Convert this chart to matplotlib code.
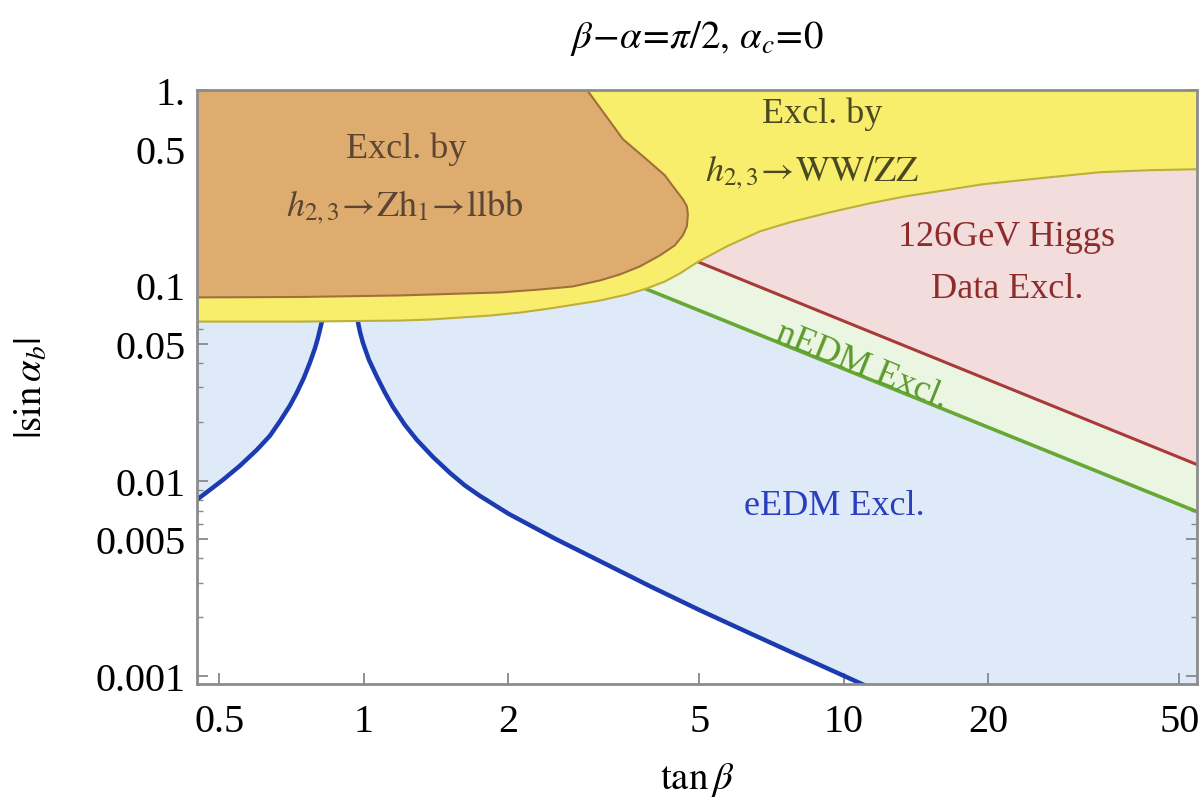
import numpy as np
import matplotlib
matplotlib.use("Agg")
import matplotlib.pyplot as plt
from matplotlib.ticker import FixedLocator, FixedFormatter, LogLocator, NullLocator

plt.rcParams["font.family"] = ["Liberation Serif", "DejaVu Serif"]
plt.rcParams["mathtext.fontset"] = "stix"

# --- datos (tan beta, |sin alpha_b|) ---
# curva eEDM (rama izquierda + rama derecha, el pico queda bajo la zona amarilla)
eedm_x = [0.448, 0.4776, 0.5084, 0.5515, 0.5985, 0.637, 0.6683, 0.701, 0.7249, 0.750,
          0.7718, 0.7905, 0.802, 0.8176, 0.834,
          0.953, 0.9716, 0.981, 0.9952, 1.024, 1.0643, 1.106, 1.149, 1.217, 1.289,
          1.392, 1.511, 1.623, 1.745, 2.005, 2.512, 2.792, 3.102, 3.943, 5.01,
          6.37, 7.79, 10.05, 12.29]
eedm_y = [0.00796, 0.00896, 0.01008, 0.0119, 0.01437, 0.01695, 0.0201, 0.02416, 0.02817, 0.0336,
          0.04014, 0.0474, 0.0536, 0.0651, 0.095,
          0.095, 0.0651, 0.0579, 0.0508, 0.0416, 0.0340, 0.0282, 0.02387, 0.0193, 0.01617,
          0.01323, 0.01095, 0.00945, 0.00835, 0.00675, 0.00502, 0.00441, 0.003875, 0.002884, 0.002172,
          0.001656, 0.001322, 0.000997, 0.000796]

# nEDM
nedm_x = [3.849, 54.6]
nedm_y = [0.0962, 0.00691]

# 126 GeV Higgs
higgs_x = [4.941, 54.6]
higgs_y = [0.1323, 0.01204]

# h -> WW/ZZ (borde inferior de la zona amarilla)
ww_x = [0.4467, 0.7356, 1.189, 1.372, 1.585, 1.83, 2.113, 2.441, 2.752, 3.102,
        3.531, 3.886, 4.238, 4.553, 4.941, 5.309, 5.703, 6.683, 7.718, 9.35,
        11.33, 13.46, 16.23, 19.48, 26.87, 34.15, 43.4, 54.6]
ww_y = [0.0651, 0.0651, 0.0659, 0.0667, 0.0683, 0.0699, 0.0724, 0.0760, 0.0796, 0.0834,
        0.0896, 0.0962, 0.1045, 0.1148, 0.1307, 0.1437, 0.1579, 0.1885, 0.2097, 0.2359,
        0.2624, 0.2850, 0.3059, 0.3284, 0.3567, 0.3784, 0.3876, 0.392]

# h -> Zh1 -> llbb (contorno de la zona marron)
zh_x = [0.40, 2.915, 3.464, 3.943, 4.236, 4.404, 4.619, 4.709, 4.732, 4.709,
        4.619, 4.444, 4.138, 3.758, 3.415, 3.102, 2.725, 2.326, 1.92, 1.189,
        0.7356, 0.40]
zh_y = [1.0, 1.0, 0.5588, 0.4258, 0.3651, 0.3208, 0.2752, 0.2533, 0.2301, 0.2000,
        0.1799, 0.1598, 0.1420, 0.1247, 0.1135, 0.1057, 0.0985, 0.0950, 0.0918, 0.0886,
        0.0870, 0.0865]

XTICKS = [0.5, 1, 2, 5, 10, 20, 50]
XTICK_LABELS = ["0.5", "1", "2", "5", "10", "20", "50"]
YTICKS = [0.001, 0.005, 0.01, 0.05, 0.1, 0.5, 1.0]
YTICK_LABELS = ["0.001", "0.005", "0.01", "0.05", "0.1", "0.5", "1."]

C_AZUL_F = "#DEEAF8"
C_AZUL = "#1C3BB0"
C_VERDE_F = "#EAF6E1"
C_VERDE = "#67A832"
C_ROSA_F = "#F3DCDC"
C_ROJO = "#A83A3A"
C_AMARILLO = "#F9EE6B"
C_AMARILLO_B = "#BDB03A"
C_MARRON = "#DFAC70"
C_MARRON_B = "#A0703C"

fig = plt.figure(figsize=(12.01, 8.03), dpi=100)
ax = fig.add_axes([0.164, 0.1469, 0.8326, 0.7401])
ax.set_xscale("log")
ax.set_yscale("log")
ax.set_xlim(0.449, 54.4)
ax.set_ylim(0.00091, 1.0)
ax.set_facecolor(C_AZUL_F)

piso = 1e-4
ax.fill_between(eedm_x, piso, eedm_y, color="white", lw=0, zorder=1)
ax.plot(eedm_x, eedm_y, color=C_AZUL, lw=3.2, zorder=2, solid_joinstyle="round")

ax.fill_between(nedm_x, nedm_y, 1.0, color=C_VERDE_F, lw=0, zorder=3)
ax.plot(nedm_x, nedm_y, color=C_VERDE, lw=2.6, zorder=4)

ax.fill_between(higgs_x, higgs_y, 1.0, color=C_ROSA_F, lw=0, zorder=5)
ax.plot(higgs_x, higgs_y, color=C_ROJO, lw=2.2, zorder=6)

ax.fill_between(ww_x, ww_y, 1.0, color=C_AMARILLO, lw=0, zorder=7)
ax.plot(ww_x, ww_y, color=C_AMARILLO_B, lw=1.5, zorder=8)

ax.fill(zh_x, zh_y, facecolor=C_MARRON, edgecolor=C_MARRON_B, lw=1.5, zorder=9,
        joinstyle="round")

# textos
fs_t = 26
ax.text(1.223, 0.50, "Excl. by", fontsize=fs_t, color="#5A4632",
        ha="center", va="center", zorder=10)
ax.text(1.218, 0.255, r"$h_{2,3}\!\rightarrow\!\mathrm{Zh}_1\!\rightarrow\!\mathrm{llbb}$",
        fontsize=fs_t, color="#5A4632", ha="center", va="center", zorder=10)
ax.text(9.0, 0.76, "Excl. by", fontsize=fs_t, color="#4A4A22",
        ha="center", va="center", zorder=10)
ax.text(8.6, 0.385, r"$h_{2,3}\!\rightarrow\!\mathrm{WW/ZZ}$", fontsize=fs_t,
        color="#4A4A22", ha="center", va="center", zorder=10)
ax.text(21.85, 0.178, "126GeV Higgs", fontsize=fs_t, color="#8E2C2C",
        ha="center", va="center", zorder=10)
ax.text(21.85, 0.0962, "Data Excl.", fontsize=fs_t, color="#8E2C2C",
        ha="center", va="center", zorder=10)
ax.text(10.9, 0.0388, "nEDM Excl.", fontsize=fs_t, color="#5C9A2C",
        ha="center", va="center", rotation=-22, zorder=10)
ax.text(9.53, 0.0075, "eEDM Excl.", fontsize=fs_t, color="#2A3FBF",
        ha="center", va="center", zorder=10)

# ejes
ax.xaxis.set_major_locator(FixedLocator(XTICKS))
ax.xaxis.set_major_formatter(FixedFormatter(XTICK_LABELS))
ax.xaxis.set_minor_locator(NullLocator())
ax.yaxis.set_major_locator(FixedLocator(YTICKS))
ax.yaxis.set_major_formatter(FixedFormatter(YTICK_LABELS))
ax.yaxis.set_minor_locator(LogLocator(base=10, subs=(2, 3, 4, 6, 7, 8, 9)))
ax.yaxis.set_minor_formatter(FixedFormatter([]))

ax.tick_params(which="both", direction="in", top=True, right=True, color="#888888",
               labelsize=29, labelcolor="black")
ax.tick_params(axis="x", which="major", length=8, width=1.3, pad=14)
ax.tick_params(axis="y", which="major", length=8, width=1.3, pad=8)
ax.tick_params(which="minor", length=4, width=1.0)
for s in ax.spines.values():
    s.set_color("#8C8C8C")
    s.set_linewidth(2)
    s.set_zorder(12)

ax.set_xlabel(r"$\tan\beta$", fontsize=28, labelpad=14)
ax.set_ylabel(r"$|\sin\alpha_b|$", fontsize=28)
ax.yaxis.set_label_coords(-0.146, 0.5)

fig.text(0.58, 1 - 38 / 803, r"$\beta\!-\!\alpha\!=\!\pi/2,\,\alpha_c\!=\!0$",
         fontsize=28, ha="center", va="center")

fig.savefig("out.png", dpi=100)
